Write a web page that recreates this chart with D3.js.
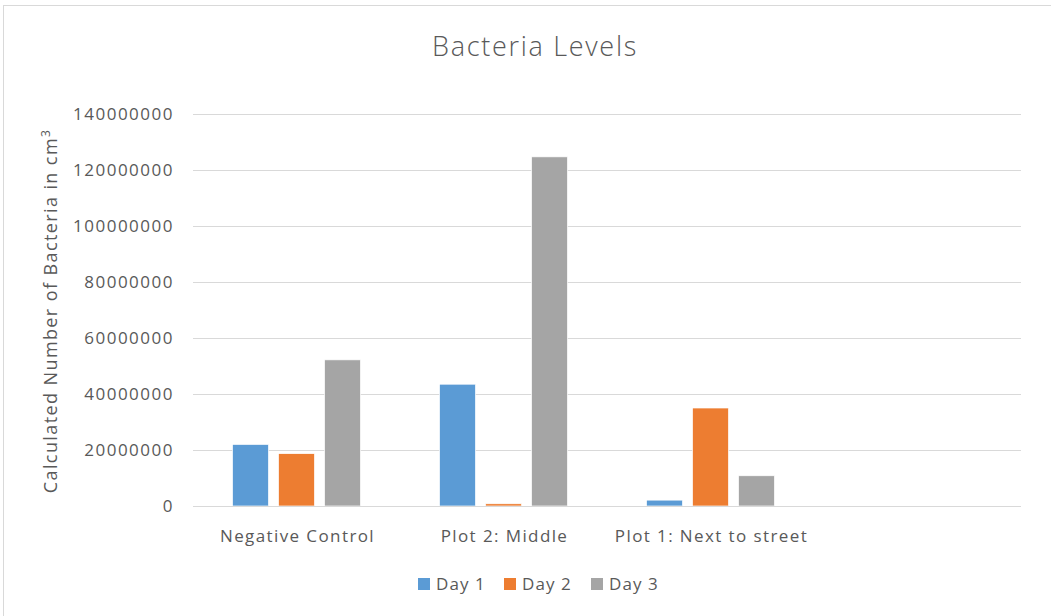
<!DOCTYPE html>
<html><head><meta charset="utf-8">
<script src="https://cdn.jsdelivr.net/npm/d3@7/dist/d3.min.js"></script>
<style>body{margin:0;background:#fff}svg{display:block}text{font-family:"Open Sans","Noto Sans",sans-serif}</style>
</head><body>
<svg id="c" width="1051" height="616"></svg>
<script>
const categories = ["Negative Control", "Plot 2: Middle", "Plot 1: Next to street", ""];
const seriesNames = ["Day 1", "Day 2", "Day 3"];
const day1 = [22000000, 43500000, 2100000, null];
const day2 = [18700000, 800000, 35000000, null];
const day3 = [52200000, 124700000, 10800000, null];
const colors = ["#5b9bd5", "#ed7d31", "#a5a5a5"];
const yTicks = [0, 20000000, 40000000, 60000000, 80000000, 100000000, 120000000, 140000000];

const svg = d3.select("#c");
svg.append("rect").attr("x",3.5).attr("y",5.5).attr("width",1060).attr("height",620)
  .attr("fill","#fff").attr("stroke","#d9d9d9");

const m = {left:193, right:1021, top:114, bottom:506};
const x = d3.scaleBand().domain(d3.range(categories.length)).range([m.left, m.right]).paddingInner(0).paddingOuter(0);
const y = d3.scaleLinear().domain([0,140000000]).range([m.bottom, m.top]);

// gridlines
svg.append("g").selectAll("line").data(yTicks).join("line")
  .attr("x1",m.left).attr("x2",m.right)
  .attr("y1",d=>Math.round(y(d))+0.5).attr("y2",d=>Math.round(y(d))+0.5)
  .attr("stroke","#d9d9d9").attr("stroke-width",1);

// y axis labels
const yAxis = d3.axisLeft(y).tickValues(yTicks).tickFormat(d=>String(d)).tickSize(0).tickPadding(0);
const gy = svg.append("g").attr("transform",`translate(174,0)`).call(yAxis);
gy.select(".domain").remove();
gy.selectAll("text").attr("fill","#595959").style("font-size","17px").style("letter-spacing","1.5px")
  .attr("font-family","'Open Sans',sans-serif");

// bars
const series = [day1, day2, day3];
const bw = 36, gap = 10;
const groupW = 3*bw + 2*gap;
series.forEach((vals, si) => {
  svg.append("g").selectAll("rect").data(vals.map((v,i)=>({v,i})).filter(d=>d.v!=null)).join("rect")
    .attr("x", d => x(d.i) + x.bandwidth()/2 - groupW/2 + si*(bw+gap))
    .attr("y", d => y(d.v))
    .attr("width", bw)
    .attr("height", d => y(0) - y(d.v))
    .attr("fill", colors[si])
    .attr("stroke","#fff").attr("stroke-width",0.7);
});

// x axis
const xAxis = d3.axisBottom(x).tickFormat(i=>categories[i]).tickSize(0).tickPadding(0);
const gx = svg.append("g").attr("transform",`translate(1,${m.bottom+24})`).call(xAxis);
gx.select(".domain").remove();
gx.selectAll("text").attr("fill","#595959").style("font-size","17px").style("letter-spacing","1.4px")
  .attr("font-family","'Open Sans',sans-serif");
svg.append("line").attr("x1",m.left).attr("x2",m.right).attr("y1",m.bottom+0.5).attr("y2",m.bottom+0.5).attr("stroke","#d9d9d9");

// title
svg.append("text").attr("x",535).attr("y",56).attr("text-anchor","middle")
  .attr("fill","#595959").style("font-size","27px").style("font-weight","300").style("letter-spacing","1.7px")
  .text("Bacteria Levels");

// y title
const yt = svg.append("text").attr("transform","translate(57,311) rotate(-90)").attr("text-anchor","middle")
  .attr("fill","#595959").style("font-size","18px").style("letter-spacing","1.4px");
yt.append("tspan").text("Calculated Number of Bacteria in cm");
yt.append("tspan").attr("dy",-7).style("font-size","12px").text("3");

// legend
const lx = [418, 504, 591];
seriesNames.forEach((n,i)=>{
  svg.append("rect").attr("x",lx[i]).attr("y",578).attr("width",12).attr("height",12).attr("fill",colors[i]);
  svg.append("text").attr("x",lx[i]+18).attr("y",590).attr("fill","#595959").style("font-size","17px")
    .style("letter-spacing","1.1px").text(n);
});
</script>
</body></html>
